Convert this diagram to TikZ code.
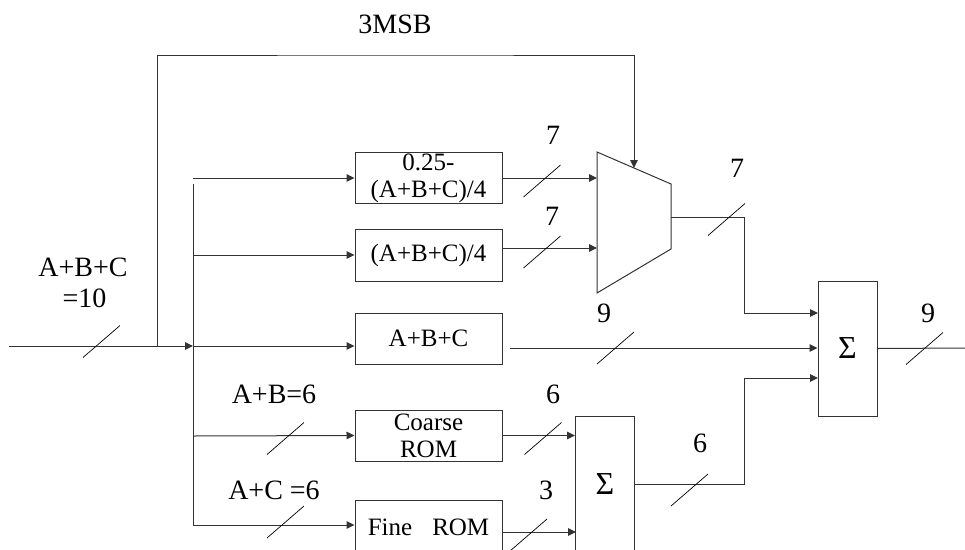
\documentclass[tikz,border=0pt]{standalone}
\usepackage{fontspec}
\setmainfont{Liberation Serif}
\usetikzlibrary{arrows.meta,calc}
\begin{document}
\begin{tikzpicture}[x=1pt,y=-1pt,
  box/.style={draw=black!80,line width=1pt,minimum width=147pt,inner sep=0pt,
    font=\fontsize{25}{27}\selectfont,align=center},
  sumbox/.style={draw=black!80,line width=1pt,minimum width=59pt,inner sep=0pt,
    font=\fontsize{32}{34}\selectfont},
  lbl/.style={font=\fontsize{28}{31}\selectfont,anchor=base,inner sep=0pt},
  wire/.style={draw=black!80,line width=1pt},
  arr/.style={wire,-{Triangle[length=8pt,width=7.5pt]}},
  busmark/.pic={\draw[black,line width=0.7pt] (-18.5,16) -- (18.5,-16);}
]
\clip (0,0) rectangle (965,549);

% blocks
\node[box,minimum height=51pt] (b1) at (428.5,178) {0.25-\\(A+B+C)/4};
\node[box,minimum height=52pt] (b2) at (428.5,255) {(A+B+C)/4};
\node[box,minimum height=51pt] (b3) at (428.5,338.5) {A+B+C};
\node[box,minimum height=51pt] (crom) at (428.5,435.5) {Coarse\\ROM};
\node[box,minimum height=54pt] (from) at (428.5,527) {Fine\hspace{20pt}ROM};
\node[sumbox,minimum height=135pt] (s1) at (847.5,348.5) {Σ};
\node[sumbox,minimum height=136pt] (s2) at (605,484) {Σ};

% multiplexer
\coordinate (m1) at (597,152);
\coordinate (m2) at (671,184);
\coordinate (m3) at (671,249);
\coordinate (m4) at (597,293);
\draw[wire] (m1) -- (m2) -- (m3) -- (m4) -- cycle;
\coordinate (mi1) at (597,178);
\coordinate (mi2) at (597,248);
\coordinate (msel) at (634,168);
\coordinate (mout) at (671,217);

% coordinates
\coordinate (in) at (9,346);
\coordinate (j3) at (193,346);
\coordinate (tap) at (157,346);
\coordinate (topc) at (395,55);
\coordinate (bt) at (193,178);
\coordinate (bv) at (193,184);
\coordinate (bb) at (193,525);
\coordinate (j2) at (193,255);
\coordinate (j4) at (193,436);
\coordinate (k1) at (744,217);
\coordinate (s1a) at (818,313);
\coordinate (s1c) at (818,378);
\coordinate (b3o) at (510,348);
\coordinate (outR) at (965,348);
\coordinate (fo) at (576,532);
\coordinate (k2) at (744,484);

% connectors
\draw[arr] (in) -- (j3);
\draw[arr] (j3) -- (b3.west |- j3);
\draw[arr] (tap) |- (topc) -| (msel);
\draw[wire] (bv) -- (bb);
\draw[arr] (bt) -- (b1.west);
\draw[arr] (j2) -- (b2.west);
\draw[arr] (j4) -- (crom.west);
\draw[arr] (bb) -- (from.west |- bb);
\draw[arr] (b1.east) -- (mi1);
\draw[arr] (b2.east |- mi2) -- (mi2);
\draw[arr] (mout) -- (k1) |- (s1a);
\draw[arr] (b3o) -- (s1.west |- b3o);
\draw[wire] (s1.east) -- (outR);
\draw[arr] (crom.east) -- (crom.east -| s2.west);
\draw[arr] (from.east |- fo) -- (fo);
\draw[arr] (s2.east) -- (k2) |- (s1c);

% bus width marks
\pic at (101.5,341.5) {busmark};
\pic at (542,181) {busmark};
\pic at (542,252) {busmark};
\pic at (726.5,219.5) {busmark};
\pic at (615.5,348) {busmark};
\pic at (924.5,348.5) {busmark};
\pic at (285.5,438.5) {busmark};
\pic at (285.5,522) {busmark};
\pic at (543,438.5) {busmark};
\pic at (528.5,535) {busmark};
\pic at (689.5,490) {busmark};

% labels
\node[lbl] (l3msb) at (395,33) {3MSB};
\node[lbl] (l7a) at (553,144) {7};
\node[lbl] (l7b) at (552,225) {7};
\node[lbl] (l7c) at (737,177) {7};
\node[lbl] (l9a) at (604,322) {9};
\node[lbl] (l9b) at (928,322) {9};
\node[lbl] (l6a) at (553,403) {6};
\node[lbl] (l3) at (546,499) {3};
\node[lbl] (l6b) at (700,452) {6};
\node[lbl] (lab) at (274,403) {A+B=6};
\node[lbl] (lac) at (274,499) {A+C =6};
\node[lbl] (labc) at (83,276) {A+B+C};
\node[lbl] (l10) at (84.5,307) {=10};
\end{tikzpicture}
\end{document}
